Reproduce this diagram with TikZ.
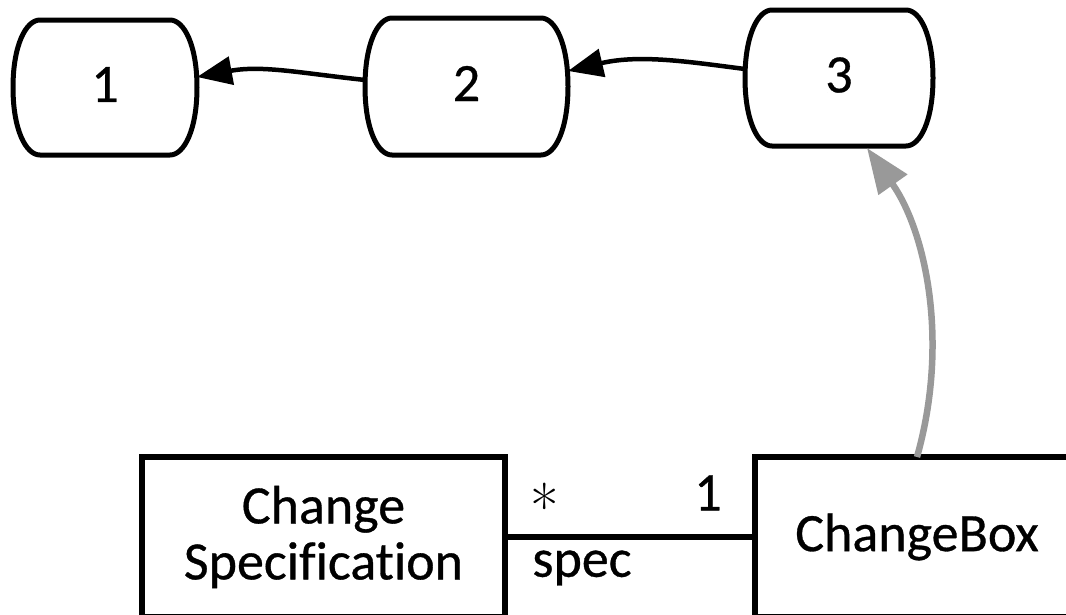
\documentclass[tikz,border=0pt]{standalone}
\usepackage{fontspec}
\setmainfont{Carlito}[Ligatures=NoCommon, FakeBold=0.6]
\newfontfamily\starfont{Latin Modern Roman}
\usetikzlibrary{arrows.meta,calc}
\tikzset{
  outline/.style={line width=5pt, line join=round},
  tubetext/.style={inner sep=0pt, outer sep=0pt, font=\fontsize{54}{56}\selectfont},
  umlbox/.style={draw, line width=5.5pt, inner sep=0pt, outer sep=0pt, align=center,
                 font=\fontsize{54}{56}\selectfont},
  txt/.style={inner sep=0pt, font=\fontsize{54}{56}\selectfont},
  bigstar/.style={inner sep=0pt, anchor=base, font=\starfont\fontsize{62}{62}\selectfont},
  blackarrow/.style={line width=4.5pt, -{Triangle[length=35pt,width=28pt]}},
  greyarrow/.style={line width=6.5pt, draw=arrowgrey, -{Triangle[length=45pt,width=34pt,fill=arrowgrey]}},
}
\definecolor{arrowgrey}{HTML}{999999}
\newcommand\tubenode[6]{%
  \draw[outline] (#2+27,#3) -- (#4-27,#3)
    .. controls (#4-13,#3) and (#4,#3+25) .. (#4,{(#3+#5)/2})
    .. controls (#4,#5-25) and (#4-13,#5) .. (#4-27,#5)
    -- (#2+27,#5)
    .. controls (#2+13,#5) and (#2,#5-25) .. (#2,{(#3+#5)/2})
    .. controls (#2,#3+25) and (#2+13,#3) .. cycle;
  \node[tubetext, minimum width={(#4-#2)*1pt}, minimum height={(#5-#3)*1pt}]
    (#1) at ({(#2+#4)/2},{(#3+#5)/2-3}) {#6};
}
\begin{document}
\begin{tikzpicture}[x=1pt,y=-1pt]
\useasboundingbox (0,0) rectangle (1066,614);
\clip (0,0) rectangle (1066,614);
\fill[white] (0,0) rectangle (1066,614);

\tubenode{n1}{13}{20}{197}{155}{1}
\tubenode{n2}{365}{18}{568}{155}{2}
\tubenode{n3}{745}{10}{933}{146}{3}

\draw[blackarrow] ([yshift=3.5pt]n2.west) .. controls (300,73) and (262,65) .. ([yshift=7.5pt]n1.east);
\draw[blackarrow] ([yshift=6pt]n3.west) .. controls (690,62) and (640,54) .. ([yshift=12.5pt]n2.east);

\node[umlbox, minimum width=363pt, minimum height=160pt, anchor=north west] (cs) at (142,457) {Change\\Specification};
\node[umlbox, minimum width=324pt, minimum height=160pt, anchor=north west] (cb) at (755,457) {ChangeBox};

\draw[line width=5.5pt] (cs.east) -- (cb.west);
\node[bigstar] (star) at (545,529) {*};
\node[txt] (one) at (708,493) {1};
\node[txt] (spec) at (582,568) {spec};

\draw[greyarrow] (cb.north) .. controls (950,340) and (925,230) .. ([xshift=28pt,yshift=-5pt]n3.south);
\end{tikzpicture}
\end{document}
